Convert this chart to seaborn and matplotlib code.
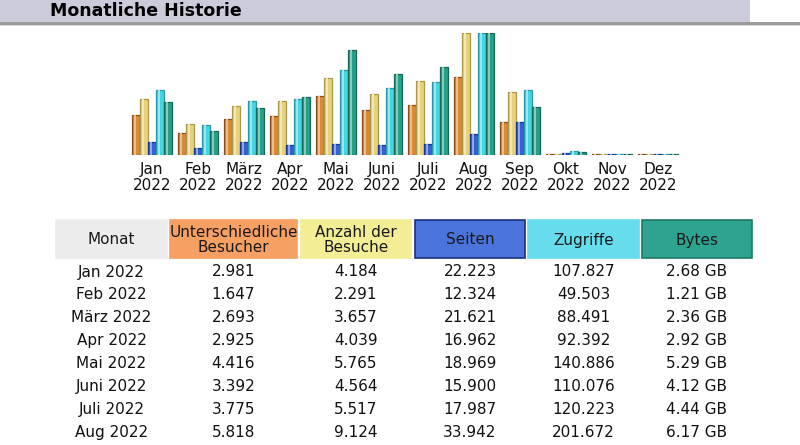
import numpy as np
import pandas as pd
import matplotlib
matplotlib.use("Agg")
import matplotlib.pyplot as plt
from matplotlib.patches import Rectangle
import matplotlib.colors as mcolors
import seaborn as sns

# ---------------- data ----------------
months = ["Jan", "Feb", "März", "Apr", "Mai", "Juni", "Juli", "Aug", "Sep", "Okt", "Nov", "Dez"]
year = "2022"
visitors = [2981, 1647, 2693, 2925, 4416, 3392, 3775, 5818, 2470, 70, 0, 0]
visits = [4184, 2291, 3657, 4039, 5765, 4564, 5517, 9124, 4710, 95, 0, 0]
pages = [22223, 12324, 21621, 16962, 18969, 15900, 17987, 33942, 54500, 4100, 0, 0]
hits = [107827, 49503, 88491, 92392, 140886, 110076, 120223, 201672, 107000, 6600, 0, 0]
bytes_gb = [2.68, 1.21, 2.36, 2.92, 5.29, 4.12, 4.44, 6.17, 2.43, 0.15, 0.0, 0.0]

# table (first 8 months shown)
tbl_months = ["Jan 2022", "Feb 2022", "März 2022", "Apr 2022", "Mai 2022", "Juni 2022", "Juli 2022", "Aug 2022"]
tbl_visitors = ["2.981", "1.647", "2.693", "2.925", "4.416", "3.392", "3.775", "5.818"]
tbl_visits = ["4.184", "2.291", "3.657", "4.039", "5.765", "4.564", "5.517", "9.124"]
tbl_pages = ["22.223", "12.324", "21.621", "16.962", "18.969", "15.900", "17.987", "33.942"]
tbl_hits = ["107.827", "49.503", "88.491", "92.392", "140.886", "110.076", "120.223", "201.672"]
tbl_bytes = ["2.68 GB", "1.21 GB", "2.36 GB", "2.92 GB", "5.29 GB", "4.12 GB", "4.44 GB", "6.17 GB"]
headers = ["Monat", "Unterschiedliche\nBesucher", "Anzahl der\nBesuche", "Seiten", "Zugriffe", "Bytes"]
title = "Monatliche Historie"

# ---------------- style ----------------
sns.set_theme(style="white")
plt.rcParams["font.family"] = ["DejaVu Sans"]

metric_names = ["visitors", "visits", "pages", "hits", "bytes"]
bar_colors = ["#D98A36", "#E6D27E", "#3562D0", "#46D4E0", "#27A088"]
edge_colors = ["#8A4E18", "#A89848", "#1A3690", "#2898A8", "#156656"]
hdr_colors = ["#ECECEC", "#F7A064", "#F3EE96", "#4A74DC", "#66DCEC", "#2EA38F"]
hdr_edges = ["#ECECEC", "#F7A064", "#F3EE96", "#1C2F80", "#66DCEC", "#1E7A68"]

# AWStats-like scaling: visitors & visits by max visits, pages & hits by max hits, bytes by max bytes
mv = max(visits); mh = max(hits); mb = max(bytes_gb)
norm = {
    "visitors": [v / mv for v in visitors],
    "visits": [v / mv for v in visits],
    "pages": [v / mh for v in pages],
    "hits": [v / mh for v in hits],
    "bytes": [v / mb for v in bytes_gb],
}
labels = [f"{m}\n{year}" for m in months]
rows = []
for met in metric_names:
    for lab, val in zip(labels, norm[met]):
        rows.append({"month": lab, "metric": met, "value": max(val, 0.008)})
df = pd.DataFrame(rows)

W, H = 800, 445
fig = plt.figure(figsize=(W / 100, H / 100), dpi=100)
fig.patch.set_facecolor("white")

FS = 11

# background / table layer in pixel coordinates
bg = fig.add_axes([0, 0, 1, 1])
bg.set_xlim(0, W)
bg.set_ylim(H, 0)
bg.axis("off")

# title band
bg.add_patch(Rectangle((0, 0), 750, 22, facecolor="#CBCBDB", edgecolor="none"))
bg.add_patch(Rectangle((0, 22), W, 3, facecolor="#9C9C9C", edgecolor="none"))
bg.add_patch(Rectangle((0, 25), W, 1, facecolor="#DADADA", edgecolor="none"))
bg.text(50, 11, title, fontsize=12.5, fontweight="bold", color="#000000", va="center", ha="left")

# table header
col_x = [(56, 167), (170, 297), (301, 411), (415, 525), (528, 639), (642, 752)]
hy0, hy1 = 220, 258
for (x0, x1), fc, ec, txt in zip(col_x, hdr_colors, hdr_edges, headers):
    bg.add_patch(Rectangle((x0, hy0), x1 - x0, hy1 - hy0, facecolor=fc, edgecolor=ec, linewidth=1.2))
    bg.text((x0 + x1) / 2, (hy0 + hy1) / 2 + 1, txt, fontsize=FS, color="#1a1a1a",
            ha="center", va="center", linespacing=1.0)

# table rows
cols = [tbl_months, tbl_visitors, tbl_visits, tbl_pages, tbl_hits, tbl_bytes]
row_y0, row_dy = 272, 22.9
for j, col in enumerate(cols):
    cx = (col_x[j][0] + col_x[j][1]) / 2
    for i, s in enumerate(col):
        bg.text(cx, row_y0 + i * row_dy, s, fontsize=FS, color="#111111", ha="center", va="center")

# bar chart axes: baseline at y=155px, top at y=33px; groups 46px apart starting at x=129
ax = fig.add_axes([129 / W, (H - 155) / H, 552 / W, 122 / H])
ax.patch.set_alpha(0)
sns.barplot(data=df, x="month", y="value", hue="metric", hue_order=metric_names,
            palette=bar_colors, saturation=1, width=0.87, legend=False, ax=ax, errorbar=None)
for k, cont in enumerate(ax.containers):
    light = mcolors.to_rgb(bar_colors[k])
    light = tuple(c + (1 - c) * 0.45 for c in light)
    for p in cont:
        p.set_edgecolor(edge_colors[k])
        p.set_linewidth(0.9)
        # cylinder-like highlight stripe inside each bar
        bx, bw, bh = p.get_x(), p.get_width(), p.get_height()
        ax.add_patch(Rectangle((bx + bw * 0.25, 0), bw * 0.3, bh, facecolor=light,
                               edgecolor="none", zorder=p.get_zorder() + 0.1))
ax.set_xlim(-0.5, len(months) - 0.5)
ax.set_ylim(0, 1)
ax.set_xlabel("")
ax.set_ylabel("")
ax.set_yticks([])
ax.tick_params(axis="x", length=0, pad=5, labelsize=FS, labelcolor="#111111")
for lbl in ax.get_xticklabels():
    lbl.set_linespacing(1.1)
sns.despine(ax=ax, left=True, bottom=True)

fig.savefig("out.png", dpi=100, facecolor="white")
